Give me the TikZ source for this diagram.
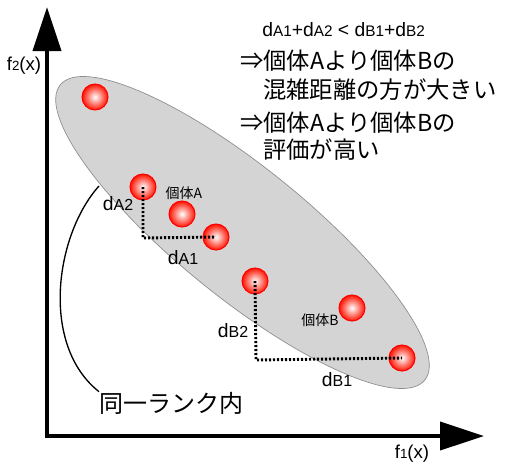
\documentclass[tikz,border=0pt]{standalone}
\usepackage{fontspec}
\setmainfont{Liberation Sans}
\newfontfamily\jp{Noto Sans CJK JP}
\usetikzlibrary{arrows.meta}
\newcommand{\dlab}[2]{d{\fontsize{12}{13}\selectfont #1#2}}
\newcommand{\dtop}[2]{d{\fontsize{11.5}{12}\selectfont #1#2}}
\tikzset{
  ball/.style={circle, inner sep=0pt, minimum size=19.5pt, draw=red, line width=0.8pt,
    shading=radial, inner color=white, outer color=red!85!orange},
  dist/.style={line width=2.2pt, dash pattern=on 1.6pt off 1.4pt},
  dlabel/.style={inner sep=0pt, font=\fontsize{14.5}{15}\selectfont},
  small/.style={inner sep=0pt, font=\jp\fontsize{10.5}{11}\selectfont},
  big/.style={inner sep=0pt, anchor=west, font=\jp\fontsize{17.5}{19}\selectfont},
  axis/.style={line width=3pt, -{Triangle[length=33pt,width=21pt]}},
  flab/.style={inner sep=0pt, font=\fontsize{14}{15}\selectfont},
}
\begin{document}
\begin{tikzpicture}[x=0.75pt,y=-0.75pt]
\useasboundingbox (0,0) rectangle (509,464);
% ellipse
\draw[fill=black!17, draw=black!45, line width=0.5pt, rotate around={-39:(242.5,232.5)}]
  (242.5,232.5) ellipse (234.5 and 65);
% axes
\coordinate (o) at (47,436);
\coordinate (ytip) at (47,7);
\coordinate (xtip) at (484,436);
\draw[axis] (o) -- (ytip);
\draw[axis] (o) -- (xtip);
\draw[line width=3pt] (47,437.5) -- (47,434);
\node[flab] (f2) at (24,66) {f{\fontsize{10}{10}\selectfont 2}(x)};
\node[flab] (f1) at (412,454) {f{\fontsize{10}{10}\selectfont 1}(x)};
% balls
\node[ball] (p0) at (95,97) {};
\node[ball] (a2) at (143,187) {};
\node[ball] (a) at (182,214) {};
\node[ball] (a1) at (216,237) {};
\node[ball] (b2) at (255,281) {};
\node[ball] (b) at (352,308) {};
\node[ball] (b1) at (402,358) {};
% distance lines
\coordinate (ca) at (143,238);
\coordinate (cb) at (256,360);
\draw[dist] (a2.center) -- (ca) -- (a1.center);
\draw[dist] (b2.center) -- (cb) -- (b1.center);
% labels
\node[dlabel] (la2) at (118,204) {\dlab{A}{2}};
\node[dlabel] (la1) at (183,258) {\dlab{A}{1}};
\node[dlabel] (lb2) at (233,331) {\dlab{B}{2}};
\node[dlabel] (lb1) at (337,380) {\dlab{B}{1}};
\node[small] (ta) at (184,193) {個体A};
\node[small] (tb) at (320,320) {個体B};
% top text
\node[inner sep=0pt, anchor=west, font=\fontsize{14.5}{16}\selectfont] (eq) at (262,30) {\dtop{A}{1}+\dtop{A}{2} < \dtop{B}{1}+\dtop{B}{2}};
\node[big] (t1) at (240,61) {⇒個体Aより個体Bの};
\node[big] (t2) at (263,90) {混雑距離の方が大きい};
\node[big] (t3) at (240,123) {⇒個体Aより個体Bの};
\node[big] (t4) at (263,150) {評価が高い};
% same rank label
\node[inner sep=0pt, anchor=west, font=\jp\fontsize{18}{19}\selectfont] (rank) at (99,403) {同一ランク内};
\coordinate (cs) at (99,186);
\draw[line width=1pt] (cs) .. controls (55,235) and (40,345) .. (rank.north west);
\end{tikzpicture}
\end{document}
